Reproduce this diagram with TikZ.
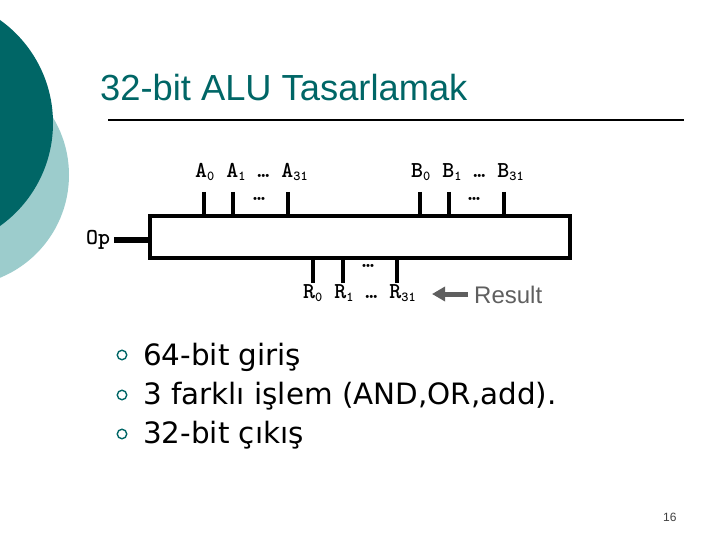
\documentclass[tikz,border=0pt]{standalone}
\usepackage{fontspec}
\setmainfont{Liberation Sans}
\newfontfamily\bulletfont{DejaVu Sans}
\usetikzlibrary{positioning,arrows.meta}
\definecolor{DarkTeal}{RGB}{0, 102, 102}
\definecolor{LightTeal}{RGB}{156, 204, 204}
\definecolor{ResultGray}{RGB}{95, 95, 95}
\newcommand{\pinsub}[1]{\raisebox{-3pt}{\fontsize{13.7}{13.7}\selectfont #1}}

\begin{document}
\begin{tikzpicture}[x=1pt, y=-1pt,
  pinlabel/.style={anchor=base west, inner sep=0pt, font=\ttfamily\bfseries\fontsize{22.8}{22.8}\selectfont},
  bullettext/.style={anchor=base west, inner sep=0pt, font=\bulletfont\fontsize{29.4}{29.4}\selectfont},
  bulletmark/.style={circle, draw=DarkTeal, line width=1.4pt, minimum size=9.5pt, inner sep=0pt},
  alubox/.style={rectangle, draw=black, line width=3.5pt, minimum width=420pt, minimum height=42pt, inner sep=0pt},
  wire/.style={draw=black, line width=3.4pt},
  opwire/.style={draw=black, line width=6.5pt},
  resarrow/.style={draw=ResultGray, line width=5pt, -{Triangle[length=13pt, width=14pt]}}
]
  \clip (0,0) rectangle (720,540);
  \fill[LightTeal] (-42,175) circle (111);
  \fill[DarkTeal] (-73.6,123) circle (126.6);

  \node[anchor=base west, inner sep=0pt, text=DarkTeal, font=\fontsize{36.3}{36.3}\selectfont] (title) at (100,101) {32-bit ALU Tasarlamak};
  \coordinate (ruleleft) at (108,120);
  \coordinate (ruleright) at (684,120);
  \draw[line width=1.6pt] (ruleleft) -- (ruleright);

  \node[alubox] (alu) at (360,237) {};

  \node[pinlabel] (alabel) at (195,178) {A\pinsub{0} A\pinsub{1} … A\pinsub{31}};
  \node[pinlabel] (blabel) at (411,178) {B\pinsub{0} B\pinsub{1} … B\pinsub{31}};
  \node[pinlabel] (rlabel) at (303,298) {R\pinsub{0} R\pinsub{1} … R\pinsub{31}};
  \node[pinlabel] (adots) at (253,201) {…};
  \node[pinlabel] (bdots) at (468,201) {…};
  \node[pinlabel] (rdots) at (362,267) {…};
  \node[pinlabel] (oplabel) at (86,244) {Op};

  \foreach \pinx/\pinname in {204/a0, 233/a1, 288/a31, 420/b0, 449/b1, 504/b31} {
    \coordinate (\pinname) at (\pinx,192);
    \draw[wire] (\pinname) -- (\pinname |- alu.north);
  }
  \foreach \pinx/\pinname in {313/r0, 343/r1, 397/r31} {
    \coordinate (\pinname) at (\pinx,283);
    \draw[wire] (\pinname) -- (\pinname |- alu.south);
  }
  \coordinate (opend) at (114,240);
  \draw[opwire] (opend) -- (opend -| alu.west);

  \node[anchor=base west, inner sep=0pt, text=ResultGray, font=\fontsize{24}{24}\selectfont] (result) at (474,303) {Result};
  \coordinate (restail) at (468,294);
  \coordinate (restip) at (432,294);
  \draw[resarrow] (restail) -- (restip);

  \node[bulletmark] (mark1) at (122,355) {};
  \node[bulletmark] (mark2) at (122,395) {};
  \node[bulletmark] (mark3) at (122,434) {};
  \node[bullettext] (item1) at (143,365) {64-bit giriş};
  \node[bullettext] (item2) at (143,404) {3 farklı işlem (AND,OR,add).};
  \node[bullettext] (item3) at (143,443) {32-bit çıkış};

  \node[anchor=base west, inner sep=0pt, text=black!75, font=\fontsize{12}{12}\selectfont] (pagenum) at (663,521) {16};
\end{tikzpicture}
\end{document}
